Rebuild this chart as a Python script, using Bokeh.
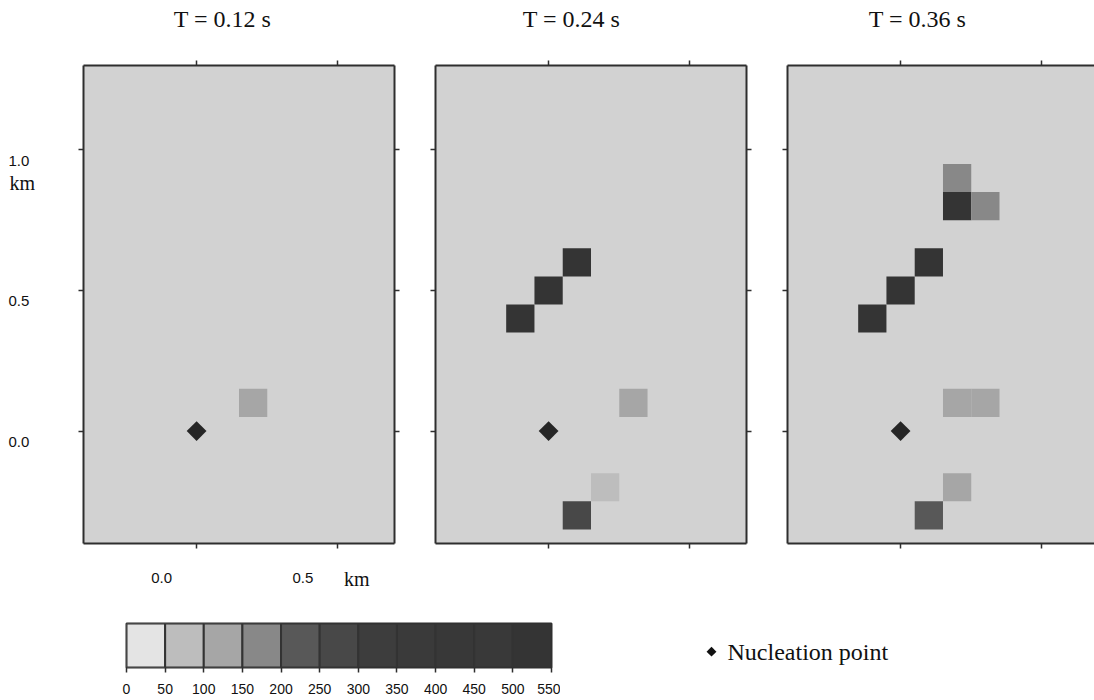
import numpy as np
from bokeh.plotting import figure
from bokeh.layouts import column, row
from bokeh.models import LinearAxis, FixedTicker, Range1d, ColumnDataSource, Spacer
from bokeh.core.properties import value
from bokeh.transform import linear_cmap
from bokeh.embed import file_html
from bokeh.resources import INLINE

# ---------------- data ----------------
titles = ["T = 0.12 s", "T = 0.24 s", "T = 0.36 s"]

# slip-rate cells (0.1 km grid, centres in km) and values
cells1_x = [0.2]
cells1_y = [0.1]
cells1_v = [120]

cells2_x = [-0.1, 0.0, 0.1, 0.3, 0.2, 0.1]
cells2_y = [0.4, 0.5, 0.6, 0.1, -0.2, -0.3]
cells2_v = [500, 500, 500, 105, 95, 260]

cells3_x = [0.2, 0.2, 0.3, -0.1, 0.0, 0.1, 0.2, 0.3, 0.2, 0.1]
cells3_y = [0.9, 0.8, 0.8, 0.4, 0.5, 0.6, 0.1, 0.1, -0.2, -0.3]
cells3_v = [170, 500, 170, 500, 500, 500, 110, 110, 100, 240]

nucleation_x = [0.0]
nucleation_y = [0.0]

x_ticks = [0.0, 0.5]
y_ticks = [0.0, 0.5, 1.0]
x_tick_labels = ["0.0", "0.5"]
y_tick_labels = ["0.0", "0.5", "1.0"]

bin_edges = [0, 50, 100, 150, 200, 250, 300, 350, 400, 450, 500, 550]
palette = ["#e4e4e4", "#bdbdbd", "#a6a6a6", "#888888", "#585858", "#484848",
           "#3d3d3d", "#3a3a3a", "#383838", "#393939", "#343434"]

SERIF = "Liberation Serif"
SANS = "Liberation Sans"
EDGE = "#2e2e2e"
BG = "#d2d2d2"
INK = "#111111"

FH = 478          # frame height of the panels
X_RANGE_1 = (-0.4, 0.7)
Y_RANGE = (-0.4, 1.3)


def bare(p):
    p.grid.visible = False
    p.outline_line_color = None
    p.border_fill_color = "white"
    p.background_fill_color = "white"


def style_axis(ax):
    ax.axis_line_color = EDGE
    ax.axis_line_width = 2
    ax.major_tick_line_color = EDGE
    ax.major_tick_line_width = 1.5
    ax.major_tick_in = 0
    ax.major_tick_out = 5
    ax.minor_tick_line_color = None
    ax.major_label_text_color = None
    ax.major_label_text_font_size = "1px"
    ax.major_label_standoff = 0


def panel(xs, ys, vs, x_end, fw, mbl, mbr, right_axis):
    p = figure(frame_width=fw, frame_height=FH,
               x_range=Range1d(X_RANGE_1[0], x_end), y_range=Range1d(*Y_RANGE),
               output_backend="svg", toolbar_location=None,
               x_axis_location=None, y_axis_location=None,
               min_border_left=mbl, min_border_right=mbr,
               min_border_top=8, min_border_bottom=8)
    bare(p)
    p.background_fill_color = BG
    locs = [("below", x_ticks), ("above", x_ticks), ("left", y_ticks)]
    if right_axis:
        locs.append(("right", y_ticks))
    for loc, tk in locs:
        ax = LinearAxis(ticker=FixedTicker(ticks=tk))
        style_axis(ax)
        p.add_layout(ax, loc)
    src = ColumnDataSource(dict(x=xs, y=ys, v=vs))
    p.rect("x", "y", width=0.1, height=0.1, source=src,
           fill_color=linear_cmap("v", palette, 0, 550), line_color=None)
    p.scatter(nucleation_x, nucleation_y, marker="square", angle=np.pi / 4,
              size=14, fill_color="#262626", line_color=None)
    return p


def title_fig(panel_fig, fw, mbl, mbr, text, shift):
    t = figure(frame_width=fw, frame_height=57, x_range=panel_fig.x_range,
               y_range=Range1d(0, 1), output_backend="svg", toolbar_location=None,
               x_axis_location=None, y_axis_location=None,
               min_border_left=mbl, min_border_right=mbr,
               min_border_top=0, min_border_bottom=0)
    bare(t)
    t.text([0.0], [0.667], text=[text], x_offset=shift, text_align="center",
           text_baseline="middle", text_font=value(SERIF), text_font_size="24px",
           text_color=INK)
    return t


p1 = panel(cells1_x, cells1_y, cells1_v, X_RANGE_1[1], 311, 8, 20, True)
p2 = panel(cells2_x, cells2_y, cells2_v, X_RANGE_1[1], 311, 21, 20, True)
p3 = panel(cells3_x, cells3_y, cells3_v, 0.686, 307, 21, 0, False)

t1 = title_fig(p1, 311, 8, 20, titles[0], 26)
t2 = title_fig(p2, 311, 21, 20, titles[1], 23)
t3 = title_fig(p3, 307, 21, 0, titles[2], 17)

# y-axis numbers (left of first panel), sharing its vertical scale
yl = figure(frame_width=75, frame_height=FH, x_range=Range1d(0, 75), y_range=p1.y_range,
            output_backend="svg", toolbar_location=None,
            x_axis_location=None, y_axis_location=None,
            min_border_left=0, min_border_right=0, min_border_top=8, min_border_bottom=8)
bare(yl)
yl.text([8] * len(y_ticks), y_ticks, text=y_tick_labels, y_offset=11,
        text_align="left", text_baseline="middle",
        text_font=value(SANS), text_font_size="15px", text_color=INK)
yl.text([9], [y_ticks[-1]], text=["km"], y_offset=33, text_align="left",
        text_baseline="middle", text_font=value(SERIF), text_font_size="20px",
        text_color=INK)

# x-axis numbers below first panel, sharing its horizontal scale
xl = figure(frame_width=311, frame_height=49, x_range=p1.x_range, y_range=Range1d(0, 1),
            output_backend="svg", toolbar_location=None,
            x_axis_location=None, y_axis_location=None,
            min_border_left=8, min_border_right=20, min_border_top=0, min_border_bottom=0)
bare(xl)
xl.text(x_ticks, [0.45] * len(x_ticks), text=x_tick_labels, x_offset=-35,
        text_align="center", text_baseline="middle",
        text_font=value(SANS), text_font_size="15px", text_color=INK)
xl.text([x_ticks[-1]], [0.43], text=["km"], x_offset=6, text_align="left",
        text_baseline="middle", text_font=value(SERIF), text_font_size="20px",
        text_color=INK)

# ---------------- colour bar ----------------
cb = figure(frame_width=425, frame_height=44,
            x_range=Range1d(bin_edges[0], bin_edges[-1]), y_range=Range1d(0, 1),
            output_backend="svg", toolbar_location=None,
            x_axis_location=None, y_axis_location=None,
            min_border_left=126, min_border_right=9,
            min_border_top=23, min_border_bottom=33)
cb.grid.visible = False
cb.outline_line_color = EDGE
cb.outline_line_width = 2
cb.quad(left=bin_edges[:-1], right=bin_edges[1:], bottom=0, top=1, fill_color=palette,
        line_color="#333333", line_width=2)
cax = LinearAxis(ticker=FixedTicker(ticks=bin_edges))
cax.axis_line_color = None
cax.major_tick_line_color = EDGE
cax.major_tick_line_width = 1.5
cax.major_tick_in = 0
cax.major_tick_out = 5
cax.minor_tick_line_color = None
cax.major_label_standoff = 11
cax.major_label_text_font = SANS
cax.major_label_text_font_size = "14px"
cax.major_label_text_color = INK
cb.add_layout(cax, "below")

# ---------------- key ----------------
lg = figure(frame_width=534, frame_height=44, x_range=Range1d(0, 534), y_range=Range1d(0, 1),
            output_backend="svg", toolbar_location=None,
            x_axis_location=None, y_axis_location=None,
            min_border_left=0, min_border_right=0, min_border_top=23, min_border_bottom=33)
bare(lg)
lg.scatter([151], [0.36], marker="square", angle=np.pi / 4, size=7,
           fill_color=INK, line_color=None)
lg.text([167], [0.36], text=["Nucleation point"], text_align="left", text_baseline="middle",
        text_font=value(SERIF), text_font_size="24px", text_color=INK)

left_col = column(Spacer(width=75, height=57), yl)
col1 = column(t1, p1, xl)
col2 = column(t2, p2)
col3 = column(t3, p3)
layout = column(row(left_col, col1, col2, col3), row(cb, lg))
open("out.html", "w").write(file_html(layout, INLINE))
